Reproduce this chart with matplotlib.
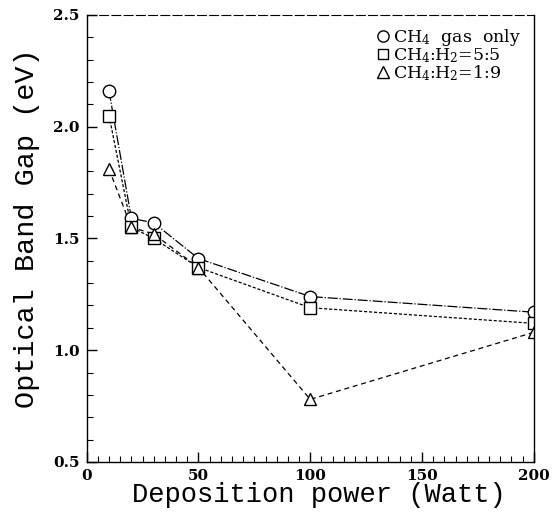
import numpy as np
import matplotlib.pyplot as plt
from matplotlib.ticker import MultipleLocator

# deposition power (W) and optical band gap (eV)
power = [10, 20, 30, 50, 100, 200]
gap_ch4 = [2.16, 1.59, 1.57, 1.41, 1.24, 1.17]
gap_55 = [2.05, 1.55, 1.50, 1.37, 1.19, 1.12]
gap_19 = [1.81, 1.55, 1.52, 1.37, 0.78, 1.08]

labels = ['CH$_4$  gas  only', 'CH$_4$:H$_2$=5:5', 'CH$_4$:H$_2$=1:9']

plt.rcParams['mathtext.fontset'] = 'custom'
plt.rcParams['mathtext.rm'] = 'DejaVu Serif'
plt.rcParams['mathtext.default'] = 'rm'

mono = 'Liberation Mono'

fig = plt.figure(figsize=(5.52, 5.15), dpi=100)
ax = fig.add_axes([0.157, 0.103, 0.81, 0.868])

ax.plot(power, gap_ch4, color='black', lw=0.9, ls=(0, (8, 1.5, 1, 1.5)))
ax.plot(power, gap_55, color='black', lw=0.9, ls=(0, (2.5, 1.5)))
ax.plot(power, gap_19, color='black', lw=0.9, ls=(0, (4, 3)))

mk = dict(ls='none', mfc='white', mec='black', mew=1.0, ms=9)
h1, = ax.plot(power, gap_ch4, marker='o', **mk)
h2, = ax.plot(power, gap_55, marker='s', **dict(mk, ms=8))
h3, = ax.plot(power, gap_19, marker='^', **mk)

ax.set_xlim(0, 200)
ax.set_ylim(0.5, 2.5)
ax.xaxis.set_major_locator(MultipleLocator(50))
ax.xaxis.set_minor_locator(MultipleLocator(5))
ax.yaxis.set_major_locator(MultipleLocator(0.5))
ax.yaxis.set_minor_locator(MultipleLocator(0.1))
ax.tick_params(which='both', direction='in', top=False, right=False)
ax.tick_params(which='major', length=7, width=1, pad=5)
ax.tick_params(which='minor', length=4, width=0.8)
ax.set_yticklabels(['%.1f' % v for v in ax.get_yticks()])

for lab in ax.get_xticklabels() + ax.get_yticklabels():
    lab.set_fontfamily('DejaVu Serif')
    lab.set_fontweight('bold')
    lab.set_fontsize(11)

ax.spines['top'].set_linestyle((0, (8, 3)))
ax.spines['top'].set_linewidth(0.8)
for side in ['right', 'left', 'bottom']:
    ax.spines[side].set_linewidth(1.0)

ax.set_xlabel('Deposition power (Watt)', fontfamily=mono, fontsize=19.5)
ax.xaxis.set_label_coords(0.52, -0.045, transform=ax.transAxes)
ax.xaxis.label.set_va('top')
ax.set_ylabel('Optical Band Gap (eV)', fontfamily=mono, fontsize=20.5)
ax.yaxis.set_label_coords(-0.105, 0.522, transform=ax.transAxes)

leg = ax.legend([h1, h2, h3], labels, loc='upper right', frameon=False,
                handletextpad=0.15, handlelength=0.9, labelspacing=-0.1,
                borderaxespad=0.3, markerscale=0.9,
                prop={'family': 'DejaVu Serif', 'size': 12.5})

fig.savefig('out.png', dpi=100)
